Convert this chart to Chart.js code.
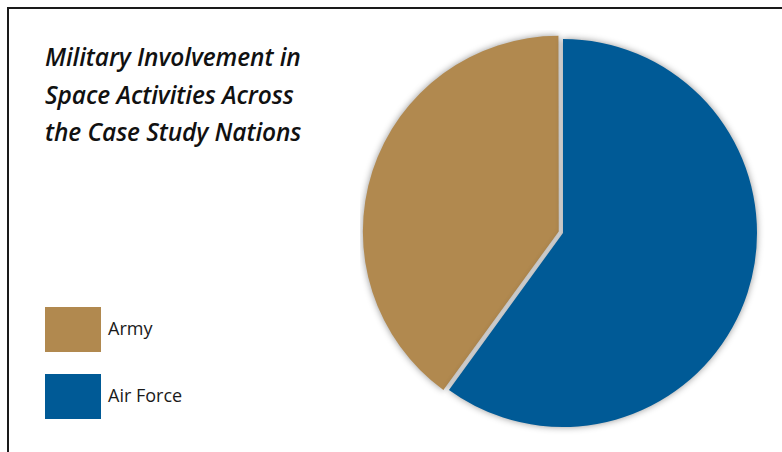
<!DOCTYPE html>
<html lang="en">
<head>
  <meta charset="utf-8" />
  <title>Military Involvement in Space Activities</title>
  <script src="https://cdn.jsdelivr.net/npm/chart.js"></script>
  <style>
    html, body {
      margin: 0;
      padding: 0;
      background: #fff;
      width: 782px;
      height: 452px;
      overflow: hidden;
    }
    #frame {
      position: absolute;
      left: 7px;
      top: 7px;
      width: 800px;
      height: 460px;
      border-top: 2px solid #1a1a1a;
      border-left: 2px solid #1a1a1a;
    }
    #title {
      position: absolute;
      left: 45px;
      top: 38px;
      font-family: "Open Sans", sans-serif;
      font-style: italic;
      font-weight: 600;
      font-size: 24.5px;
      line-height: 37.5px;
      color: #111;
      letter-spacing: -0.1px;
    }
    .item {
      position: absolute;
      left: 45px;
      font-family: "Open Sans", sans-serif;
      font-size: 18px;
      color: #1a1a1a;
    }
    .swatch {
      position: absolute;
      left: 0;
      top: 0;
      width: 56px;
      height: 45px;
    }
    .item span {
      position: absolute;
      left: 63px;
      top: 9px;
      white-space: nowrap;
    }
    #box {
      position: absolute;
      left: 360px;
      top: 30px;
      width: 406px;
      height: 406px;
    }
  </style>
</head>
<body>
  <div id="frame"></div>
  <div id="title">Military Involvement in<br>Space Activities Across<br>the Case Study Nations</div>
  <div id="legend"></div>
  <div id="box"><canvas id="chart" width="406" height="406"></canvas></div>

  <script>
    const categories = ['Army', 'Air Force'];
    const shares = [40, 60];
    const colors = ['#B1894F', '#005A96'];

    // legend on the left, same order as the categories
    const legendTops = [307, 374];
    const legend = document.getElementById('legend');
    categories.forEach((name, i) => {
      const item = document.createElement('div');
      item.className = 'item';
      item.style.top = legendTops[i] + 'px';
      item.innerHTML = `<div class="swatch" style="background:${colors[i]}"></div><span>${name}</span>`;
      legend.appendChild(item);
    });

    // soft drop shadow under the pie
    const shadowPlugin = {
      id: 'pieShadow',
      beforeDatasetsDraw(chart) {
        const ctx = chart.ctx;
        ctx.save();
        ctx.shadowColor = 'rgba(0, 0, 0, 0.42)';
        ctx.shadowBlur = 7;
        ctx.shadowOffsetX = 0;
        ctx.shadowOffsetY = 0;
      },
      afterDatasetsDraw(chart) {
        chart.ctx.restore();
      }
    };

    const total = shares.reduce((a, b) => a + b, 0);

    new Chart(document.getElementById('chart'), {
      type: 'pie',
      data: {
        labels: categories,
        datasets: [{
          data: shares,
          backgroundColor: colors,
          borderWidth: 0,
          offset: [18, 0],
          hoverOffset: 0
        }]
      },
      options: {
        responsive: false,
        animation: false,
        rotation: shares[1] / total * 360,
        radius: 194,
        layout: { padding: 0 },
        plugins: {
          legend: { display: false },
          tooltip: { enabled: false }
        }
      },
      plugins: [shadowPlugin]
    });
  </script>
</body>
</html>
